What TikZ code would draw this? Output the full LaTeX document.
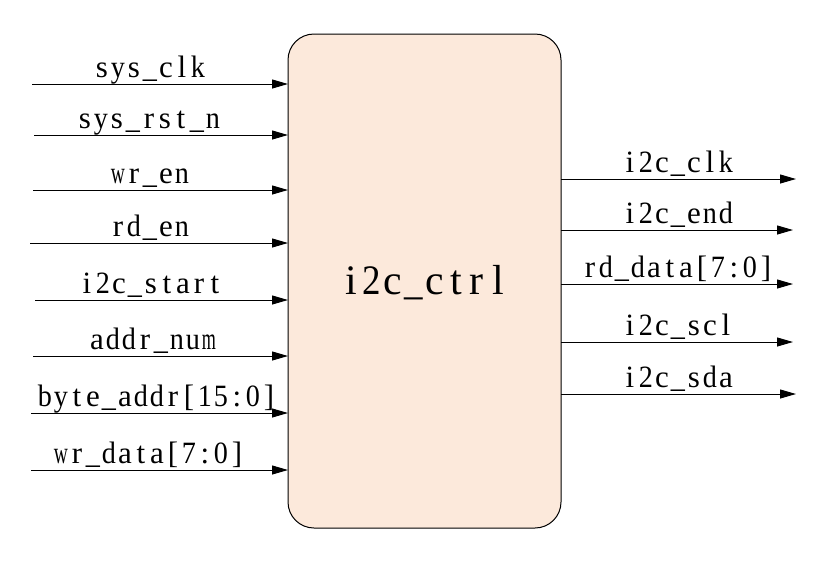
\documentclass[tikz,border=0pt]{standalone}
\usepackage{fontspec}
\usepackage{graphicx}
\newfontfamily\labfont{Liberation Serif}
\usetikzlibrary{arrows.meta}
\definecolor{boxfill}{RGB}{252,233,219}
\makeatletter
\newlength\mono@w
\newlength\mono@max
\newsavebox\mono@box
\def\mono@end{\mono@end}
\def\mono@char#1{\sbox\mono@box{#1}%
  \ifdim\wd\mono@box>\mono@max
    \pgfmathsetmacro\mono@r{\the\mono@max/\the\wd\mono@box}%
    \makebox[\mono@w]{\scalebox{\mono@r}[1]{#1}}%
  \else
    \makebox[\mono@w]{#1}%
  \fi}
\def\mono@loop#1{\ifx#1\mono@end\else\mono@char{#1}\expandafter\mono@loop\fi}
\newcommand\monotext[2]{\setlength\mono@w{#1}\setlength\mono@max{0.88\mono@w}\expandafter\mono@loop#2\mono@end}
\makeatother
\tikzset{
  sig/.style={draw=black, line width=1pt, -{Triangle[length=16pt,width=9pt]}},
  lab/.style={anchor=base, inner sep=0pt, font=\labfont\fontsize{31pt}{36pt}\selectfont},
  blk/.style={draw=black, line width=1pt, fill=boxfill, rounded corners=26pt}
}
\begin{document}
\begin{tikzpicture}[x=1pt,y=-1pt]
\useasboundingbox (0,0) rectangle (836,566);
\path[blk] (288,34) rectangle (561,528);
\def\ctrltext{i2c\_ctrl}
\node[anchor=base, inner sep=0pt, font=\labfont\fontsize{42pt}{48pt}\selectfont] (ctrl) at (424.5,294) {\monotext{21pt}{\ctrltext}};
% inputs
\foreach \n/\y/\xs/\xc/\t in {a/84/32/150/sys\_clk, b/135/34/149/sys\_rst\_n, c/190/33/150/wr\_en, d/243/30/150/rd\_en, e/300/35/151/i2c\_start, f/356/33/153/addr\_num, g/413/31/157/byte\_addr[15:0], h/470/31/149/wr\_data[7:0]}{
  \coordinate (in\n) at (\xs,\y);
  \coordinate (ie\n) at (288,\y);
  \draw[sig] (in\n) -- (ie\n);
  \node[lab] (l\n) at (\xc,\y-7) {\monotext{16pt}{\t}};
}
% outputs
\foreach \n/\y/\xe/\t in {a/179/796/i2c\_clk, b/230/793/i2c\_end, c/284/793/rd\_data[7:0], d/342/793/i2c\_scl, e/394/796/i2c\_sda}{
  \coordinate (os\n) at (561,\y);
  \coordinate (oe\n) at (\xe,\y);
  \draw[sig] (os\n) -- (oe\n);
  \node[lab] (o\n) at (678,\y-7) {\monotext{16pt}{\t}};
}
\end{tikzpicture}
\end{document}
